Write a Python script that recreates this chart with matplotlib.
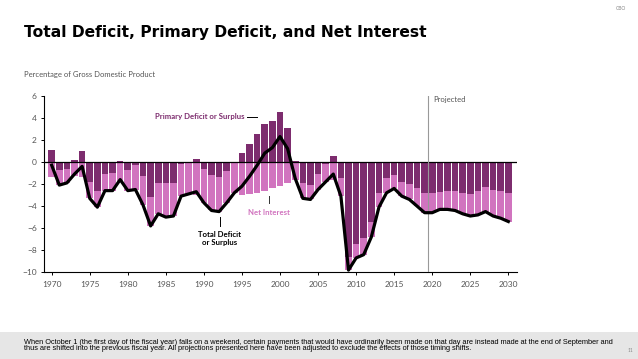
import matplotlib
matplotlib.use("Agg")
import matplotlib.pyplot as plt
import numpy as np

years = list(range(1970, 2031))
primary = [1.1, -0.7, -0.6, 0.2, 1.0, -1.8, -2.6, -1.1, -1.0, 0.1,
           -0.7, -0.3, -1.3, -3.2, -1.9, -1.9, -1.9, -0.2, 0.0, 0.3,
           -0.6, -1.2, -1.4, -0.8, 0.0, 0.8, 1.6, 2.5, 3.4, 3.7,
           4.5, 3.1, 0.1, -1.9, -2.1, -1.1, -0.2, 0.5, -1.5, -8.6,
           -7.4, -6.9, -5.4, -2.8, -1.5, -1.2, -1.8, -2.0, -2.4, -2.8,
           -2.8, -2.7, -2.6, -2.6, -2.8, -2.9, -2.6, -2.3, -2.5, -2.6, -2.8]
net_interest = [1.4, 1.4, 1.3, 1.3, 1.4, 1.5, 1.5, 1.5, 1.6, 1.7,
                1.9, 2.2, 2.6, 2.6, 2.8, 3.1, 3.0, 2.9, 2.9, 3.0,
                3.1, 3.2, 3.1, 2.9, 2.8, 3.0, 2.9, 2.8, 2.6, 2.4,
                2.2, 1.9, 1.6, 1.4, 1.3, 1.4, 1.6, 1.6, 1.6, 1.2,
                1.3, 1.5, 1.4, 1.3, 1.3, 1.2, 1.3, 1.4, 1.6, 1.8,
                1.8, 1.6, 1.7, 1.8, 1.9, 2.0, 2.2, 2.2, 2.4, 2.5, 2.6]
total = [-0.3, -2.1, -1.9, -1.1, -0.4, -3.3, -4.1, -2.6, -2.6, -1.6,
         -2.6, -2.5, -3.9, -5.8, -4.7, -5.0, -4.9, -3.1, -2.9, -2.7,
         -3.7, -4.4, -4.5, -3.7, -2.8, -2.2, -1.3, -0.3, 0.8, 1.3,
         2.3, 1.2, -1.5, -3.3, -3.4, -2.5, -1.8, -1.1, -3.1, -9.8,
         -8.7, -8.4, -6.8, -4.1, -2.8, -2.4, -3.1, -3.4, -4.0, -4.6,
         -4.6, -4.3, -4.3, -4.4, -4.7, -4.9, -4.8, -4.5, -4.9, -5.1, -5.4]
yticks = [-10, -8, -6, -4, -2, 0, 2, 4, 6]
xticks = list(range(1970, 2031, 5))

DARK = "#7d2c6e"
PINK = "#d174bf"
GRAY = "#555555"
FONT = "Lato"

W, H = 638, 359
fig = plt.figure(figsize=(W / 100, H / 100), dpi=100)
fig.patch.set_facecolor("white")

# footer band
band = plt.Rectangle((0, 0), 1, (H - 332) / H, transform=fig.transFigure,
                     facecolor="#e6e6e6", edgecolor="none", zorder=0)
fig.patches.append(band)

ax = fig.add_axes([44.3 / W, 1 - 272.3 / H, (516.7 - 44.3) / W, (272.3 - 95.7) / H])
ax.set_facecolor("none")

yrs = np.array(years)
p = np.array(primary)
ni = np.array(net_interest)
pink_top = np.where(p < 0, p, 0.0)
ax.bar(yrs, p, width=0.87, color=DARK, linewidth=0, zorder=2)
ax.bar(yrs, -ni, bottom=pink_top, width=0.87, color=PINK, linewidth=0, zorder=2)
ax.plot(yrs, total, color="black", lw=2.3, solid_joinstyle="round", zorder=4)
ax.axhline(0, color="black", lw=0.9, zorder=3)
ax.plot([2019.5, 2019.5], [-10, 6.0], color="#999999", lw=0.8, zorder=3)
ax.text(2020.1, 5.7, "Projected", fontsize=5.5, color=GRAY, family=FONT, va="center", ha="left")

ax.set_xlim(1969.03, 2031.1)
ax.set_ylim(-10, 6)
ax.set_yticks(yticks)
ax.set_yticklabels(["\u2212%d" % -t if t < 0 else "%d" % t for t in yticks])
ax.set_xticks(xticks)
ax.set_xticklabels([str(x) for x in xticks])
for s in ["top", "right"]:
    ax.spines[s].set_visible(False)
for s in ["left", "bottom"]:
    ax.spines[s].set_linewidth(0.8)
ax.tick_params(axis="both", labelsize=6, colors="black", labelcolor=GRAY, length=2.5, width=0.7)
ax.tick_params(axis="x", pad=4)
ax.tick_params(axis="y", pad=3)
for lab in ax.get_xticklabels() + ax.get_yticklabels():
    lab.set_family(FONT)

# annotations
ax.text(1995.4, 4.1, "Primary Deficit or Surplus", color=DARK, fontsize=5.6, fontweight="bold",
        family=FONT, ha="right", va="center")
ax.plot([1995.7, 1997.0], [4.1, 4.1], color="black", lw=0.7)
ax.text(1998.55, -4.3, "Net Interest", color=PINK, fontsize=5.6, fontweight="bold",
        family=FONT, ha="center", va="top")
ax.plot([1998.55, 1998.55], [-3.05, -3.75], color="#333333", lw=0.7)
ax.text(1992.1, -6.3, "Total Deficit\nor Surplus", color="black", fontsize=5.6, fontweight="bold",
        family=FONT, ha="center", va="top", linespacing=1.05)
ax.plot([1992.1, 1992.1], [-5.0, -5.8], color="black", lw=0.7)

# texts in figure
fig.text(24 / W, 1 - 32.5 / H, "Total Deficit, Primary Deficit, and Net Interest", fontsize=11.15,
         fontweight="bold", family="DejaVu Sans", ha="left", va="center", color="black")
fig.text(24 / W, 1 - 75 / H, "Percentage of Gross Domestic Product", fontsize=5.5, family=FONT,
         color=GRAY, ha="left", va="center")
fig.text(621 / W, 1 - 9 / H, "CBO", fontsize=3.5, family=FONT, color="#888888", ha="center", va="center")
fig.text(630 / W, 1 - 351 / H, "11", fontsize=3.5, family=FONT, color="#888888", ha="center", va="center")
foot = ("When October 1 (the first day of the fiscal year) falls on a weekend, certain payments that would have "
        "ordinarily been made on that day are instead made at the end of September and\n"
        "thus are shifted into the previous fiscal year. All projections presented here have been adjusted "
        "to exclude the effects of those timing shifts.")
fig.text(24 / W, 1 - 345.5 / H, foot, fontsize=5.3, family="Liberation Sans", color="black",
         ha="left", va="center", linespacing=0.95)

fig.savefig("out.png", dpi=100)
